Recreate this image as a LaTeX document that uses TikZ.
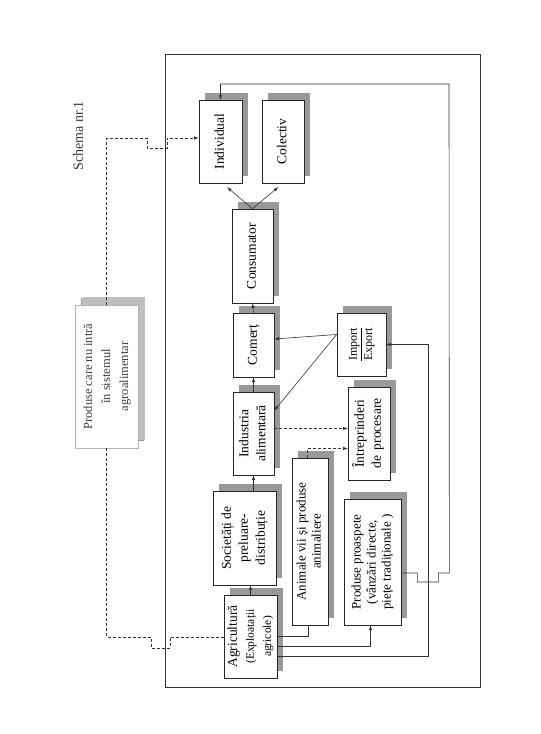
\documentclass[tikz,border=0pt]{standalone}
\usepackage{fontspec}
\setmainfont{Liberation Serif}
\usepackage{graphicx}
\usetikzlibrary{shadows}
\newcommand{\rtext}[1]{\rotatebox{90}{\begin{tabular}{@{}c@{}}#1\end{tabular}}}

\begin{document}
\begin{tikzpicture}[x=1pt,y=-1pt,
    box/.style={draw=black!85,fill=white,line width=0.7pt,inner sep=1pt,
      font=\fontsize{13.5}{17}\selectfont,
      drop shadow={shadow xshift=6pt,shadow yshift=7pt,fill=black!40,opacity=1}},
    pale/.style={box,draw=black!30,text=black!75,font=\fontsize{12.5}{18}\selectfont,
      drop shadow={shadow xshift=7pt,shadow yshift=8pt,fill=black!25,opacity=1}},
    link/.style={draw=black!80,line width=0.6pt},
    dlink/.style={link,dash pattern=on 3pt off 2pt}]

\useasboundingbox (0,0) rectangle (541,734);

% title and frame
\node[font=\fontsize{14}{16}\selectfont,text=black!80] (title) at (78,136) {\rotatebox{90}{Schema nr.1}};
\draw[link] (165,54) rectangle (480,687);

% consumers
\node[box,minimum width=43pt,minimum height=83pt] (indiv) at (220.5,141.5) {\rtext{Individual}};
\node[box,minimum width=42pt,minimum height=83pt] (colec) at (283,141.5) {\rtext{Colectiv}};
\node[box,minimum width=41pt,minimum height=94pt] (cons) at (252.5,256) {\rtext{Consumator}};

% main chain
\node[box,minimum width=41pt,minimum height=64pt] (com) at (253.5,345) {\rtext{Comerț}};
\node[box,minimum width=41pt,minimum height=83pt] (indu) at (253.5,433.5) {\rtext{Industria\\alimentară}};
\node[box,minimum width=63pt,minimum height=94pt] (soc) at (244.5,538) {\rtext{Societăți de\\preluare-\\distribuție}};
\node[box,minimum width=53pt,minimum height=83pt] (agr) at (250.5,636.5)
  {\rtext{Agricultură\\{\fontsize{11.5}{13}\selectfont(Exploatații}\\{\fontsize{11.5}{13}\selectfont agricole)}}};

% side boxes
\node[box,minimum width=49pt,minimum height=63pt,font=\fontsize{12}{15}\selectfont] (imp) at (361.5,344.5)
  {\rotatebox{90}{\begin{tabular}{@{}c@{}}Import\\\hline Export\end{tabular}}};
\node[box,minimum width=42pt,minimum height=93pt] (intr) at (369,433.5) {\rtext{Întreprinderi\\de\, procesare}};
\node[box,minimum width=36pt,minimum height=167pt,font=\fontsize{13}{15}\selectfont] (anim) at (310,541.5)
  {\rtext{Animale vii și produse\\animaliere}};
\node[box,minimum width=57pt,minimum height=126pt,font=\fontsize{13}{15}\selectfont] (prod) at (372.5,562)
  {\rtext{Produse proaspete\\(vânzări directe,\\piețe tradiționale )}};

% outside the system
\node[pale,minimum width=63pt,minimum height=143pt] (pcn) at (106.5,376.5)
  {\rtext{Produse care nu intră\\în sistemul\\agroalimentar}};

% flow arrows
\draw[link,-latex] (agr.north) -- (agr.north |- soc.south);
\draw[link,-latex] (indu.south |- soc.north) -- (indu.south);
\draw[link,-latex] (indu.north) -- (com.south);
\draw[link,-latex] (com.north) -- (cons.south);
\draw[link,-latex,shorten >=6pt] (cons.north) -- ([xshift=2pt]indiv.south);
\draw[link,-latex,shorten >=6pt] (cons.north) -- (colec.south);

% import / export
\coordinate (impl) at ([yshift=10pt]imp.west);
\draw[link,-latex] (impl) -- ([yshift=6pt]com.east);
\draw[link,-latex] (impl) -- ([yshift=23pt]indu.east);

% processing
\draw[dlink,-latex] ([yshift=5pt]indu.east) -- ([yshift=5pt]intr.west);
\draw[dlink,-latex] ([xshift=-3pt]anim.north) |- ([yshift=-15pt]intr.west);

% from agriculture
\coordinate (rimp) at (428,344.5);
\draw[link] (agr.east) -| ([xshift=-2pt]anim.south);
\draw[link,-latex] ([yshift=-10pt]agr.east) -| ([xshift=-2pt]prod.south);
\draw[link,-latex] ([yshift=-19.5pt]agr.east) -| (rimp) -- (imp.east);

% fresh products to individual consumers
\coordinate (topr) at (449,84);
\draw[link,-latex] ([yshift=-11pt]prod.east) -- ++(16,0) -- ++(0,9) -- ++(21,0) -- ++(0,-9)
  -- ++(11,0) -- (topr) -| (indiv.north);

% products outside the system
\coordinate (hopa) at (147,138);
\coordinate (hopb) at (167,138);
\coordinate (hopc) at (151,637);
\coordinate (hopd) at (170,637);
\draw[dlink,-latex] (pcn.north) |- (hopa) -- ++(0,10) -| (hopb) -- (indiv.west |- hopb);
\draw[dlink] (pcn.south) |- (hopc) -- ++(0,11) -| (hopd) -- (agr.west |- hopd);

\end{tikzpicture}
\end{document}
